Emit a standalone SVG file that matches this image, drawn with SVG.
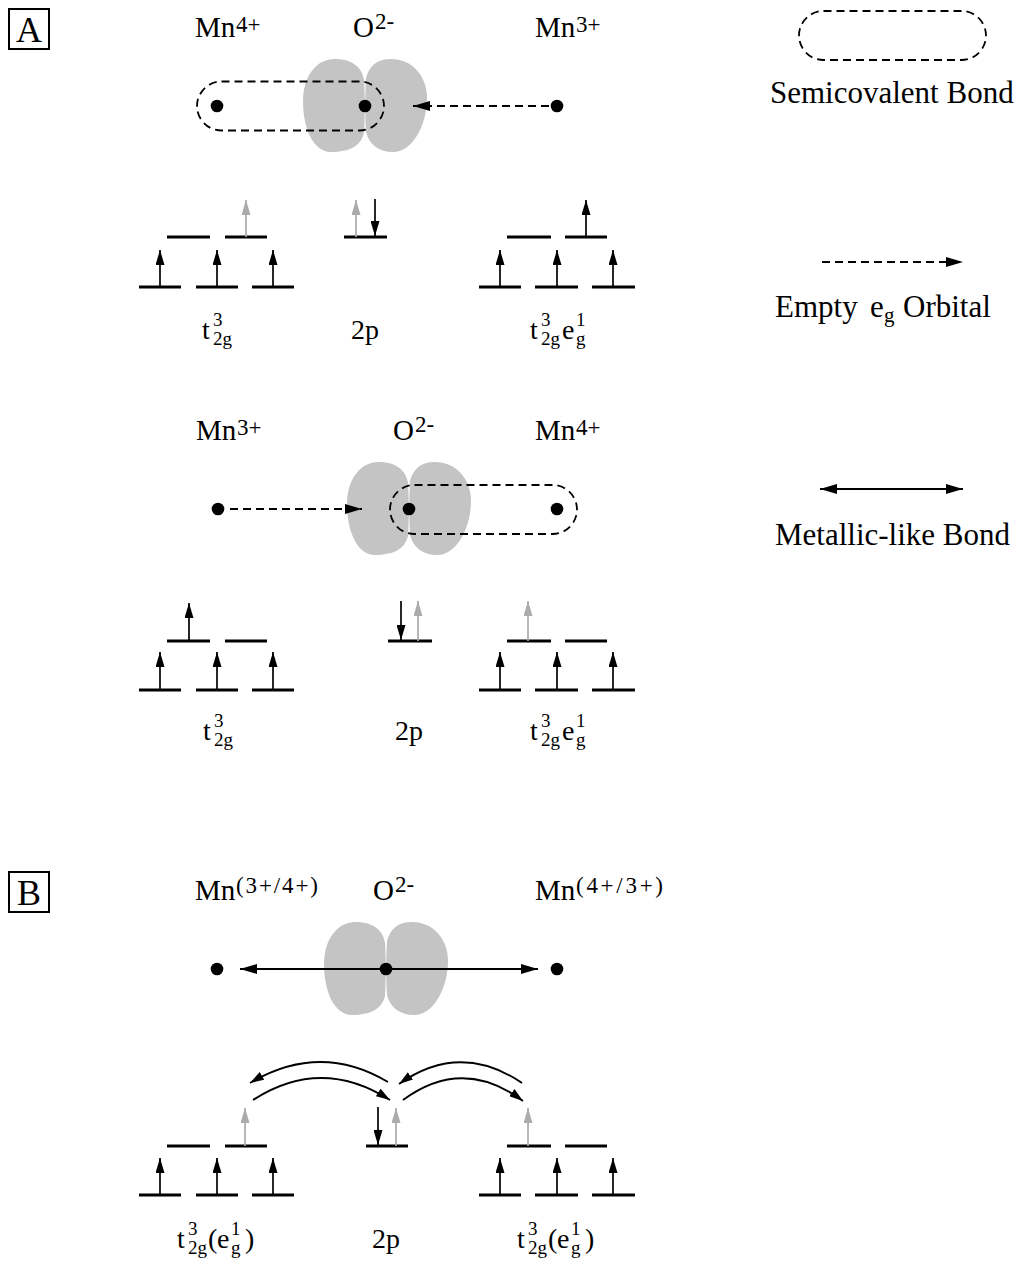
<svg xmlns="http://www.w3.org/2000/svg" width="1021" height="1262" viewBox="0 0 1021 1262">
<style>
text { font-family: "Liberation Serif", "Times New Roman", serif; fill: #000; }
.ion { font-size: 29px; }
.sup { font-size: 23px; }
.lbl { font-size: 28px; }
.scr { font-size: 19px; }
.leg { font-size: 31px; }
.legscr { font-size: 21px; }
.tag { font-size: 36px; }
.box { fill: none; stroke: #000; stroke-width: 2; }
.lvl { stroke: #000; stroke-width: 3; }
.spin { stroke: #000; stroke-width: 1.7; fill: none; marker-end: url(#hb); }
.spin.g { stroke: #ababab; marker-end: url(#hg); }
.dot { fill: #000; }
.bond { fill: none; stroke: #000; stroke-width: 1.8; stroke-dasharray: 8 5; }
.dash { fill: none; stroke: #000; stroke-width: 1.8; stroke-dasharray: 8 5; marker-end: url(#ha); }
.solid { fill: none; stroke: #000; stroke-width: 1.8; marker-start: url(#ha); marker-end: url(#ha); }
.hop { fill: none; stroke: #000; stroke-width: 1.8; marker-end: url(#hc); }
.lobe { fill: #c4c4c4; }
</style>
<defs>
  <filter id="soft" x="-10%" y="-10%" width="120%" height="120%">
    <feGaussianBlur stdDeviation="0.6"/>
  </filter>
  <!-- spin arrowheads -->
  <marker id="hb" viewBox="0 0 15 9" refX="15" refY="4.5" markerWidth="15" markerHeight="9" markerUnits="userSpaceOnUse" orient="auto">
    <path d="M0,0 L15,4.5 L0,9 Z" fill="#000"/>
  </marker>
  <marker id="hg" viewBox="0 0 15 9" refX="15" refY="4.5" markerWidth="15" markerHeight="9" markerUnits="userSpaceOnUse" orient="auto">
    <path d="M0,0 L15,4.5 L0,9 Z" fill="#ababab"/>
  </marker>
  <!-- bond arrowhead -->
  <marker id="ha" viewBox="0 0 17 10" refX="17" refY="5" markerWidth="17" markerHeight="10" markerUnits="userSpaceOnUse" orient="auto-start-reverse">
    <path d="M0,0 L17,5 L0,10 Z" fill="#000"/>
  </marker>
  <!-- hopping arrowhead -->
  <marker id="hc" viewBox="0 0 14 9" refX="14" refY="4.5" markerWidth="14" markerHeight="9" markerUnits="userSpaceOnUse" orient="auto">
    <path d="M0,0 L14,4.5 L0,9 Z" fill="#000"/>
  </marker>
  <!-- O 2p orbital: two lobes around the origin -->
  <g id="p-orbital" filter="url(#soft)">
    <path class="lobe" d="M-1,-26 C-3,-38 -12,-47 -30,-47 C-50,-47 -62,-28 -62,-5 C-62,22 -52,46 -34,46 C-16,46 -4,40 -1,27 C0,10 0,-10 -1,-26 Z"/>
    <path class="lobe" d="M1,-28 C4,-40 12,-47 26,-47 C47,-47 62,-30 62,-8 C62,18 48,46 28,46 C13,46 4,38 1,26 C0,10 0,-10 1,-28 Z"/>
  </g>
</defs>

<rect width="1021" height="1262" fill="#fff"/>

<!-- panel tags -->
<g id="tag-a">
  <rect class="box" x="9" y="9" width="40" height="40"/>
  <text class="tag" x="29" y="41.5" text-anchor="middle">A</text>
</g>
<g id="tag-b">
  <rect class="box" x="9" y="872" width="40" height="40"/>
  <text class="tag" x="29" y="905" text-anchor="middle">B</text>
</g>

<!-- ===== A, upper case: Mn4+ – O2- – Mn3+ ===== -->
<g id="a1-orbital"><use href="#p-orbital" x="365" y="106"/></g>
<g id="a1-bond"><rect class="bond" x="197" y="81.5" width="187" height="49" rx="24.5"/></g>

<g id="a1-mn-left">
  <text class="ion" x="195" y="37">Mn</text><text class="sup" x="236" y="32">4+</text>
  <circle class="dot" cx="217" cy="106" r="6.3"/>
</g>
<g id="a1-o">
  <text class="ion" x="353" y="37">O</text><text class="sup" x="375" y="29">2-</text>
  <circle class="dot" cx="365" cy="106" r="6.3"/>
</g>
<g id="a1-mn-right">
  <text class="ion" x="535" y="37">Mn</text><text class="sup" x="576" y="32">3+</text>
  <circle class="dot" cx="557" cy="106" r="6.3"/>
</g>

<g id="a1-levels-left">
  <line class="lvl" x1="139" y1="287" x2="181" y2="287"/>
  <line class="lvl" x1="196" y1="287" x2="238" y2="287"/>
  <line class="lvl" x1="252" y1="287" x2="294" y2="287"/>
  <line class="lvl" x1="167" y1="237" x2="210" y2="237"/>
  <line class="lvl" x1="225" y1="237" x2="267" y2="237"/>
  <line class="spin" x1="160" y1="287" x2="160" y2="250"/>
  <line class="spin" x1="217" y1="287" x2="217" y2="250"/>
  <line class="spin" x1="273" y1="287" x2="273" y2="250"/>
  <line class="spin g" x1="246" y1="237" x2="246" y2="200"/>
  <text class="lbl" x="202" y="339">t</text><text class="scr" x="213" y="326">3</text><text class="scr" x="213" y="345">2g</text>
</g>
<g id="a1-levels-o">
  <line class="lvl" x1="344" y1="237" x2="387" y2="237"/>
  <line class="spin g" x1="356" y1="237" x2="356" y2="200"/>
  <line class="spin" x1="375" y1="199" x2="375" y2="236"/>
  <text class="lbl" x="351" y="339">2p</text>
</g>
<g id="a1-levels-right">
  <line class="lvl" x1="479" y1="287" x2="521" y2="287"/>
  <line class="lvl" x1="535" y1="287" x2="578" y2="287"/>
  <line class="lvl" x1="592" y1="287" x2="635" y2="287"/>
  <line class="lvl" x1="507" y1="237" x2="551" y2="237"/>
  <line class="lvl" x1="565" y1="237" x2="607" y2="237"/>
  <line class="spin" x1="500" y1="287" x2="500" y2="250"/>
  <line class="spin" x1="557" y1="287" x2="557" y2="250"/>
  <line class="spin" x1="613" y1="287" x2="613" y2="250"/>
  <line class="spin" x1="586" y1="237" x2="586" y2="200"/>
  <text class="lbl" x="530" y="339">t</text><text class="scr" x="541" y="326">3</text><text class="scr" x="541" y="345">2g</text>
  <text class="lbl" x="562" y="339">e</text><text class="scr" x="576" y="326">1</text><text class="scr" x="576" y="345">g</text>
</g>

<!-- ===== A, lower case: Mn3+ – O2- – Mn4+ ===== -->
<g id="a2-orbital"><use href="#p-orbital" x="409" y="509"/></g>
<g id="a2-bond"><rect class="bond" x="390" y="485" width="187" height="49" rx="24.5"/></g>

<g id="a2-mn-left">
  <text class="ion" x="196" y="440">Mn</text><text class="sup" x="237" y="435">3+</text>
  <circle class="dot" cx="218" cy="509" r="6.3"/>
</g>
<g id="a2-o">
  <text class="ion" x="393" y="440">O</text><text class="sup" x="415" y="432">2-</text>
  <circle class="dot" cx="409" cy="509" r="6.3"/>
</g>
<g id="a2-mn-right">
  <text class="ion" x="535" y="440">Mn</text><text class="sup" x="576" y="435">4+</text>
  <circle class="dot" cx="557" cy="509" r="6.3"/>
</g>

<g id="a2-levels-left">
  <line class="lvl" x1="139" y1="690" x2="181" y2="690"/>
  <line class="lvl" x1="196" y1="690" x2="238" y2="690"/>
  <line class="lvl" x1="252" y1="690" x2="294" y2="690"/>
  <line class="lvl" x1="167" y1="641" x2="210" y2="641"/>
  <line class="lvl" x1="225" y1="641" x2="267" y2="641"/>
  <line class="spin" x1="160" y1="690" x2="160" y2="652"/>
  <line class="spin" x1="217" y1="690" x2="217" y2="652"/>
  <line class="spin" x1="273" y1="690" x2="273" y2="652"/>
  <line class="spin" x1="189" y1="641" x2="189" y2="603"/>
  <text class="lbl" x="203" y="740">t</text><text class="scr" x="214" y="727">3</text><text class="scr" x="214" y="746">2g</text>
</g>
<g id="a2-levels-o">
  <line class="lvl" x1="388" y1="641" x2="432" y2="641"/>
  <line class="spin" x1="401" y1="601" x2="401" y2="640"/>
  <line class="spin g" x1="418" y1="641" x2="418" y2="601"/>
  <text class="lbl" x="395" y="740">2p</text>
</g>
<g id="a2-levels-right">
  <line class="lvl" x1="479" y1="690" x2="521" y2="690"/>
  <line class="lvl" x1="535" y1="690" x2="578" y2="690"/>
  <line class="lvl" x1="592" y1="690" x2="635" y2="690"/>
  <line class="lvl" x1="507" y1="641" x2="551" y2="641"/>
  <line class="lvl" x1="565" y1="641" x2="607" y2="641"/>
  <line class="spin" x1="500" y1="690" x2="500" y2="652"/>
  <line class="spin" x1="557" y1="690" x2="557" y2="652"/>
  <line class="spin" x1="613" y1="690" x2="613" y2="652"/>
  <line class="spin g" x1="528" y1="641" x2="528" y2="601"/>
  <text class="lbl" x="530" y="740">t</text><text class="scr" x="541" y="727">3</text><text class="scr" x="541" y="746">2g</text>
  <text class="lbl" x="562" y="740">e</text><text class="scr" x="576" y="727">1</text><text class="scr" x="576" y="746">g</text>
</g>

<!-- ===== B: mixed valence ===== -->
<g id="b-orbital"><use href="#p-orbital" x="386" y="969"/></g>

<g id="b-mn-left">
  <text class="ion" x="195" y="900">Mn</text><text class="sup" x="236" y="893" textLength="82">(3+/4+)</text>
  <circle class="dot" cx="217" cy="969" r="6.3"/>
</g>
<g id="b-o">
  <text class="ion" x="373" y="900">O</text><text class="sup" x="395" y="892">2-</text>
</g>
<g id="b-mn-right">
  <text class="ion" x="535" y="900">Mn</text><text class="sup" x="576" y="893" textLength="87">(4+/3+)</text>
  <circle class="dot" cx="557" cy="969" r="6.3"/>
</g>

<g id="b-levels-left">
  <line class="lvl" x1="139" y1="1195" x2="181" y2="1195"/>
  <line class="lvl" x1="196" y1="1195" x2="238" y2="1195"/>
  <line class="lvl" x1="252" y1="1195" x2="294" y2="1195"/>
  <line class="lvl" x1="167" y1="1146" x2="210" y2="1146"/>
  <line class="lvl" x1="225" y1="1146" x2="267" y2="1146"/>
  <line class="spin" x1="160" y1="1195" x2="160" y2="1158"/>
  <line class="spin" x1="217" y1="1195" x2="217" y2="1158"/>
  <line class="spin" x1="273" y1="1195" x2="273" y2="1158"/>
  <line class="spin g" x1="245" y1="1146" x2="245" y2="1108"/>
  <text class="lbl" x="177" y="1248">t</text><text class="scr" x="188" y="1235">3</text><text class="scr" x="188" y="1254">2g</text>
  <text class="lbl" x="208" y="1248">(</text><text class="lbl" x="217" y="1248">e</text>
  <text class="scr" x="231" y="1235">1</text><text class="scr" x="231" y="1254">g</text>
  <text class="lbl" x="245" y="1248">)</text>
</g>
<g id="b-levels-o">
  <line class="lvl" x1="366" y1="1146" x2="408" y2="1146"/>
  <line class="spin" x1="378" y1="1107" x2="378" y2="1145"/>
  <line class="spin g" x1="396" y1="1146" x2="396" y2="1108"/>
  <text class="lbl" x="372" y="1248">2p</text>
</g>
<g id="b-levels-right">
  <line class="lvl" x1="479" y1="1195" x2="521" y2="1195"/>
  <line class="lvl" x1="535" y1="1195" x2="578" y2="1195"/>
  <line class="lvl" x1="592" y1="1195" x2="635" y2="1195"/>
  <line class="lvl" x1="507" y1="1146" x2="551" y2="1146"/>
  <line class="lvl" x1="565" y1="1146" x2="607" y2="1146"/>
  <line class="spin" x1="500" y1="1195" x2="500" y2="1158"/>
  <line class="spin" x1="557" y1="1195" x2="557" y2="1158"/>
  <line class="spin" x1="613" y1="1195" x2="613" y2="1158"/>
  <line class="spin g" x1="528" y1="1146" x2="528" y2="1108"/>
  <text class="lbl" x="517" y="1248">t</text><text class="scr" x="528" y="1235">3</text><text class="scr" x="528" y="1254">2g</text>
  <text class="lbl" x="548" y="1248">(</text><text class="lbl" x="557" y="1248">e</text>
  <text class="scr" x="571" y="1235">1</text><text class="scr" x="571" y="1254">g</text>
  <text class="lbl" x="585" y="1248">)</text>
</g>

<!-- legend -->
<g id="legend-semicovalent">
  <rect class="bond" x="799" y="11" width="187" height="49" rx="24.5"/>
  <text class="leg" x="770" y="103">Semicovalent Bond</text>
</g>
<g id="legend-empty-eg">
  <line class="dash" x1="822" y1="262" x2="963" y2="262"/>
  <text class="leg" x="775" y="317">Empty</text>
  <text class="leg" x="870" y="317">e</text><text class="legscr" x="884" y="322">g</text>
  <text class="leg" x="903" y="317">Orbital</text>
</g>
<g id="legend-metallic">
  <line class="solid" x1="820" y1="489" x2="963" y2="489"/>
  <text class="leg" x="775" y="545">Metallic-like Bond</text>
</g>

<!-- connectors -->
<g id="connectors">
  <line class="dash" x1="549" y1="106" x2="413" y2="106"/>
  <line class="dash" x1="230" y1="509" x2="362" y2="509"/>
  <line class="solid" x1="240" y1="969" x2="538" y2="969"/>
  <path class="hop" d="M388,1082 Q320,1041.5 250,1083"/>
  <path class="hop" d="M253,1100 Q321,1056 390,1100"/>
  <path class="hop" d="M522,1083 Q460,1041 399,1084"/>
  <path class="hop" d="M403,1100 Q463,1056 523,1101"/>
</g>

<!-- O site drawn over the bond line -->
<g id="b-o-site"><circle class="dot" cx="386" cy="969" r="6.3"/></g>
</svg>
